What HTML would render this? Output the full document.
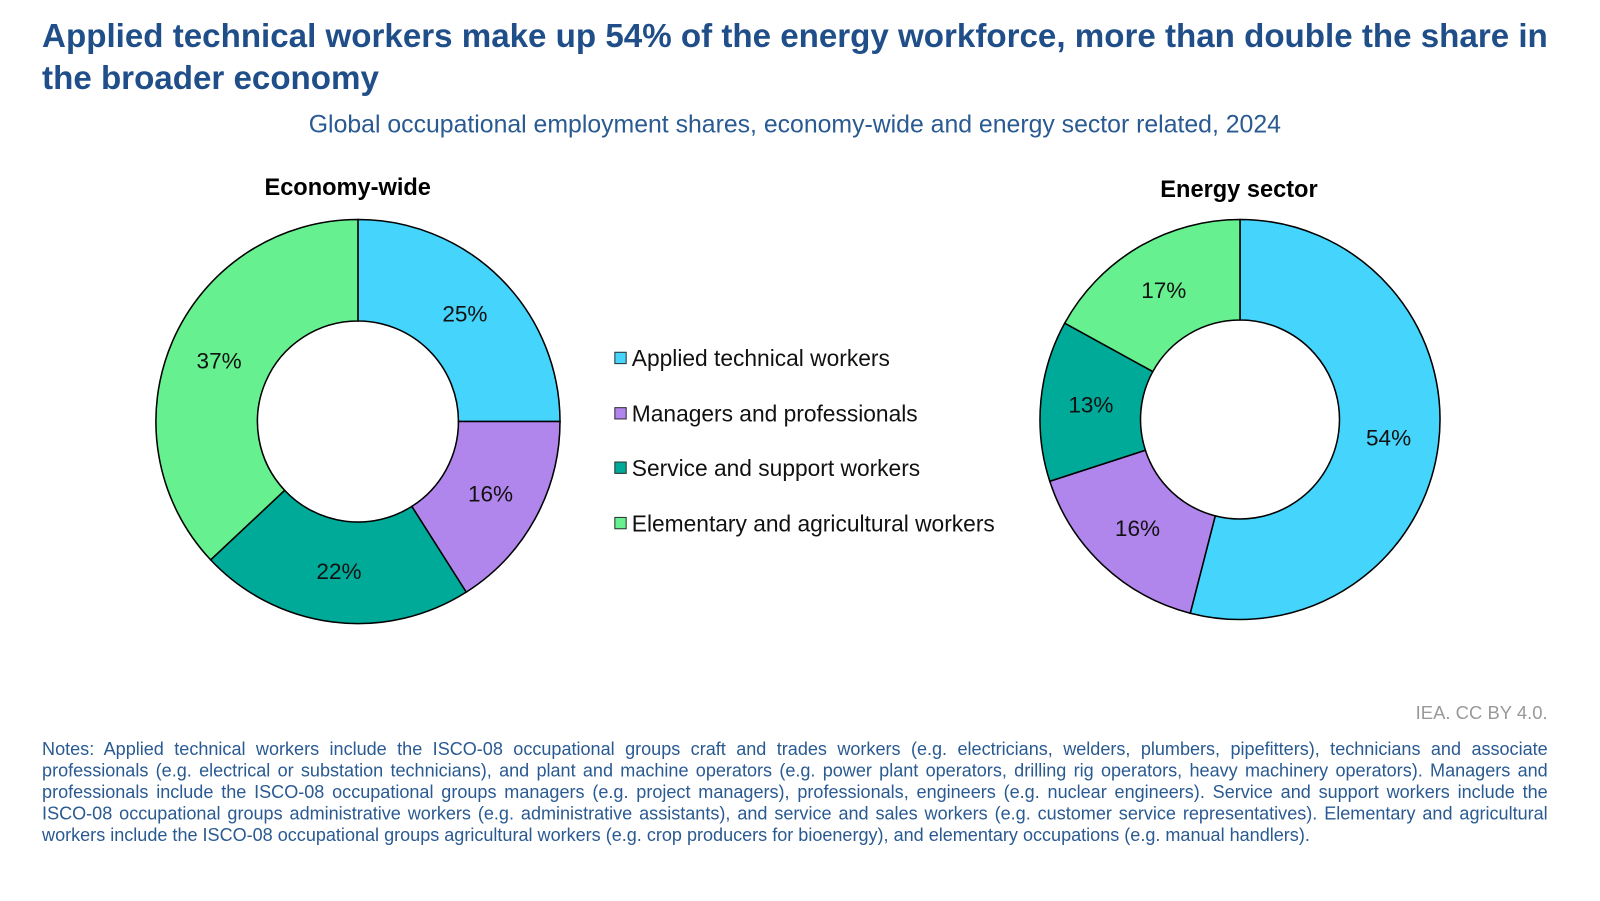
<!DOCTYPE html>
<html><head><meta charset="utf-8"><style>
body{margin:0;width:1600px;height:900px;background:#fff;font-family:"Liberation Sans",sans-serif;overflow:hidden}
#w{position:absolute;left:0;top:0;width:1560px;height:878px;transform:scale(1.02564);transform-origin:0 0}
.t{position:absolute;left:41px;top:15px;font-size:32.3px;font-weight:bold;color:#1f4e89;line-height:41px;width:1500px}
.s{position:absolute;left:0;width:1550px;text-align:center;top:108px;font-size:24.2px;color:#2a5a92}
.h{position:absolute;font-size:23px;font-weight:bold;color:#000;width:300px;text-align:center}
.lg{position:absolute;left:599px;font-size:22.2px;color:#111}
.lg i{display:inline-block;width:10px;height:10px;border:1px solid #333;margin-right:5px;vertical-align:2px}
.n{position:absolute;left:41px;top:720px;width:1468px;font-size:17.6px;color:#2a5a92;line-height:21px}
.n div{text-align:justify;text-align-last:justify;white-space:nowrap}
.n div.l{text-align-last:left}
.c{position:absolute;right:51px;top:685px;font-size:18px;color:#999}
</style></head><body><div id="w">
<div class="t">Applied technical workers make up 54% of the energy workforce, more than double the share in the broader economy</div>
<div class="s">Global occupational employment shares, economy-wide and energy sector related, 2024</div>
<div class="h" style="left:189px;top:169px">Economy-wide</div>
<div class="h" style="left:1058px;top:171px">Energy sector</div>
<svg id="g" width="1560" height="878" style="position:absolute;left:0;top:0"></svg>
<div class="lg" style="top:337px"><i style="background:#44d4fc"></i>Applied technical workers</div>
<div class="lg" style="top:391px"><i style="background:#b085ec"></i>Managers and professionals</div>
<div class="lg" style="top:444px"><i style="background:#00aa99"></i>Service and support workers</div>
<div class="lg" style="top:498px"><i style="background:#66f08f"></i>Elementary and agricultural workers</div>
<div class="c">IEA. CC BY 4.0.</div>
<div class="n">
<div>Notes: Applied technical workers include the ISCO-08 occupational groups craft and trades workers (e.g. electricians, welders, plumbers, pipefitters), technicians and associate</div>
<div>professionals (e.g. electrical or substation technicians), and plant and machine operators (e.g. power plant operators, drilling rig operators, heavy machinery operators). Managers and</div>
<div>professionals include the ISCO-08 occupational groups managers (e.g. project managers), professionals, engineers (e.g. nuclear engineers). Service and support workers include the</div>
<div>ISCO-08 occupational groups administrative workers (e.g. administrative assistants), and service and sales workers (e.g. customer service representatives). Elementary and agricultural</div>
<div class="l">workers include the ISCO-08 occupational groups agricultural workers (e.g. crop producers for bioenergy), and elementary occupations (e.g. manual handlers).</div>
</div>
</div>
<script>
var C=["#44d4fc","#b085ec","#00aa99","#66f08f"];
function donut(cx,cy,R,r,vals){
 var s="",a=0;
 function p(rad,ang){ang=ang*Math.PI/180;return [cx+rad*Math.sin(ang),cy-rad*Math.cos(ang)];}
 vals.forEach(function(v,i){
  var b=a+v*3.6,L=(b-a)>180?1:0;
  var p1=p(R,a),p2=p(R,b),p3=p(r,b),p4=p(r,a);
  s+='<path d="M'+p1+' A'+R+','+R+' 0 '+L+' 1 '+p2+' L'+p3+' A'+r+','+r+' 0 '+L+' 0 '+p4+' Z" fill="'+C[i]+'" stroke="#000" stroke-width="1.5"/>';
  var m=p((R+r)/2,(a+b)/2);
  s+='<text x="'+m[0]+'" y="'+(m[1]+7)+'" text-anchor="middle" font-size="22" font-family="Liberation Sans" fill="#111">'+v+'%</text>';
  a=b;});
 return s;}
document.getElementById("g").innerHTML=donut(349,411,197,98,[25,16,22,37])+donut(1209,409,195,97,[54,16,13,17]);
</script>
</body></html>
